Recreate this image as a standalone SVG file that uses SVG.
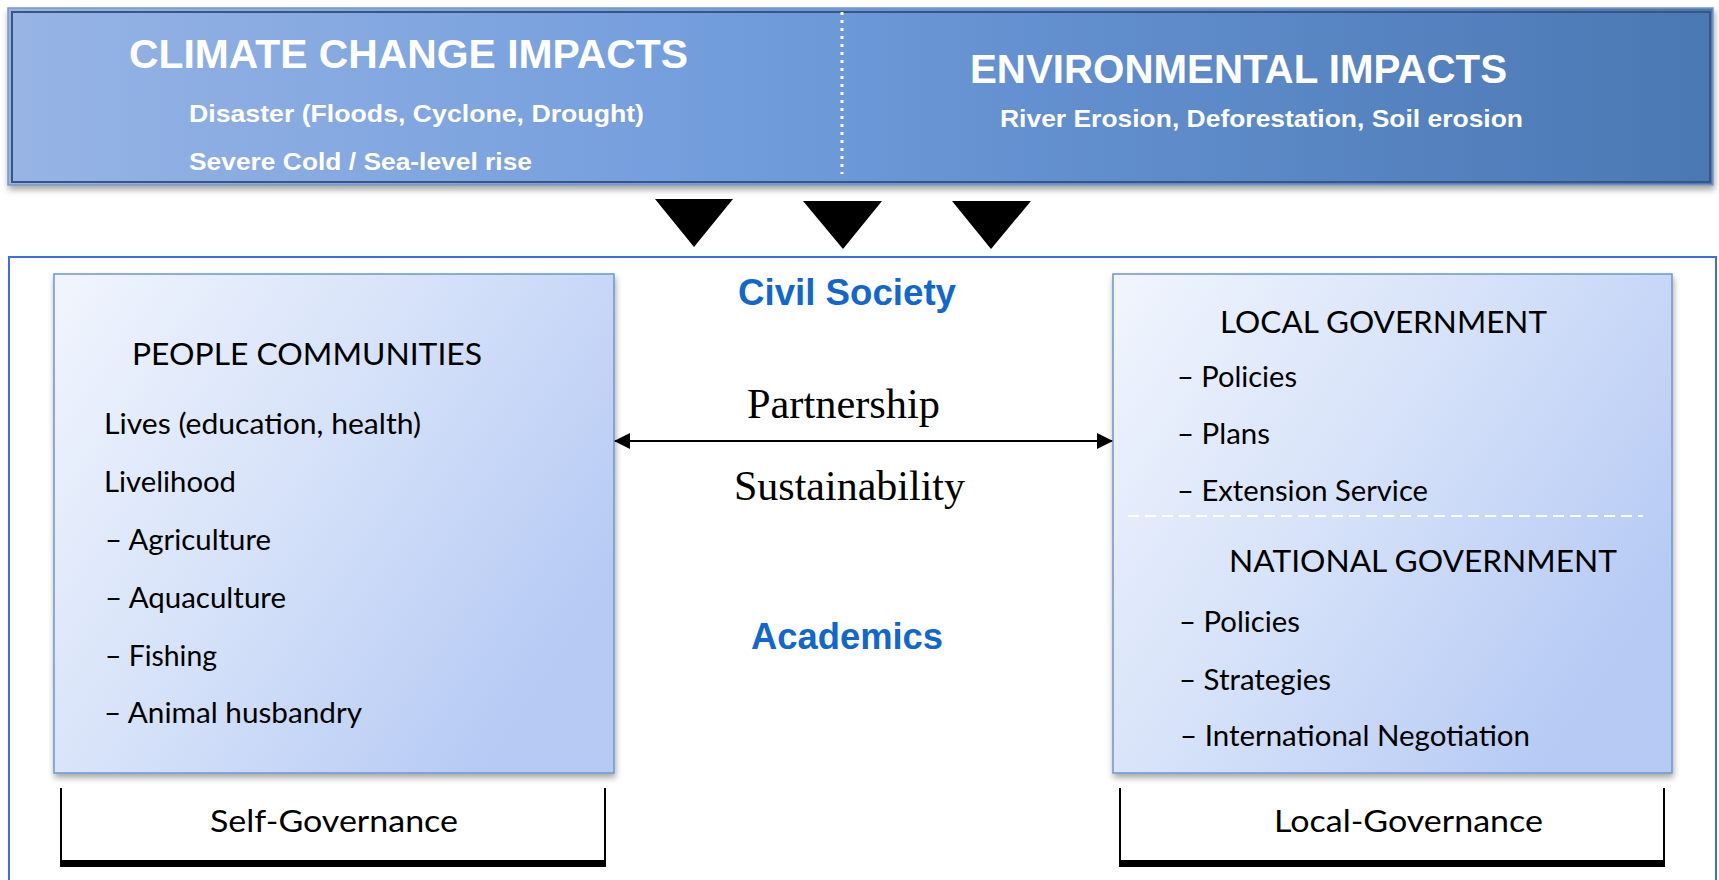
<svg xmlns="http://www.w3.org/2000/svg" width="1719" height="880" viewBox="0 0 1719 880">
  <defs>
    <linearGradient id="bannerFill" x1="0" y1="0" x2="1" y2="0">
      <stop offset="0" stop-color="#97B4E5"/>
      <stop offset="0.45" stop-color="#6F9BDB"/>
      <stop offset="0.6" stop-color="#6490D0"/>
      <stop offset="1" stop-color="#4A78B2"/>
    </linearGradient>
    <linearGradient id="boxFill" x1="0" y1="0" x2="1" y2="0.6">
      <stop offset="0" stop-color="#F1F5FD"/>
      <stop offset="0.5" stop-color="#D6E2F9"/>
      <stop offset="1" stop-color="#B6CAF4"/>
    </linearGradient>
    <filter id="shadow" x="-5%" y="-5%" width="110%" height="115%">
      <feDropShadow dx="1" dy="4" stdDeviation="3" flood-color="#000" flood-opacity="0.35"/>
    </filter>
    <marker id="arrowHead" viewBox="0 0 16 16" refX="15" refY="8" markerWidth="16" markerHeight="16" markerUnits="userSpaceOnUse" orient="auto-start-reverse">
      <path d="M0,0 L16,8 L0,16 Z" fill="#000"/>
    </marker>
    <style>
      .bannerTitle { font-family: "Liberation Sans", Arial, sans-serif; font-weight: bold; font-size: 40px; fill: #FFFFFF; }
      .bannerSub { font-family: "Liberation Sans", Arial, sans-serif; font-weight: bold; font-size: 24px; fill: #FFFFFF; }
      .box { fill: url(#boxFill); stroke: #6E95D0; stroke-width: 1.5; }
      .head { font-family: Lato, "Open Sans", sans-serif; font-size: 30px; fill: #000; }
      .item { font-family: Lato, "Open Sans", sans-serif; font-size: 28px; fill: #000; }
      .blueLabel { font-family: "Liberation Sans", Arial, sans-serif; font-weight: bold; font-size: 36px; fill: #1267CF; }
      .serifLabel { font-family: "Liberation Serif", "Times New Roman", serif; font-size: 42px; fill: #000; }
      .bracket { fill: none; stroke: #000; stroke-width: 2; }
      .bracketBase { fill: #000; }
      .tri { fill: #000; }
    </style>
  </defs>

  <rect width="1719" height="880" fill="#FFFFFF"/>

  <!-- impacts banner -->
  <g id="impacts-banner">
    <rect x="8" y="8" width="1705" height="177" fill="url(#bannerFill)" stroke="#7C96C4" stroke-width="1.5" filter="url(#shadow)"/>
    <rect x="12" y="12" width="1698" height="170" fill="none" stroke="#3A5584" stroke-width="2"/>
    <line x1="842" y1="12" x2="842" y2="174" stroke="#FFFFFF" stroke-width="3" stroke-dasharray="3 5"/>
  </g>
  <g id="climate-change">
    <text class="bannerTitle" x="129" y="68" textLength="559" lengthAdjust="spacingAndGlyphs">CLIMATE CHANGE IMPACTS</text>
    <text class="bannerSub" x="189" y="122" textLength="455" lengthAdjust="spacingAndGlyphs">Disaster (Floods, Cyclone, Drought)</text>
    <text class="bannerSub" x="189" y="170" textLength="343" lengthAdjust="spacingAndGlyphs">Severe Cold / Sea-level rise</text>
  </g>
  <g id="environmental">
    <text class="bannerTitle" x="970" y="83" textLength="537" lengthAdjust="spacingAndGlyphs">ENVIRONMENTAL IMPACTS</text>
    <text class="bannerSub" x="1000" y="127" textLength="523" lengthAdjust="spacingAndGlyphs">River Erosion, Deforestation, Soil erosion</text>
  </g>

  <!-- downward pointers -->
  <g id="pointers">
    <polygon class="tri" points="655,199 733,199 694,247"/>
    <polygon class="tri" points="803,201 882,201 843,249"/>
    <polygon class="tri" points="952,201 1031,201 991,249"/>
  </g>

  <!-- governance frame -->
  <g id="frame">
    <rect x="9" y="257" width="1707" height="660" fill="none" stroke="#3D6BF0" stroke-width="2"/>
  </g>

  <!-- people communities -->
  <g id="people-communities">
    <rect class="box" x="54" y="274" width="560" height="499" filter="url(#shadow)"/>
    <text class="head" x="132" y="365" textLength="350" lengthAdjust="spacingAndGlyphs">PEOPLE COMMUNITIES</text>
    <text class="item" x="104" y="434" textLength="317" lengthAdjust="spacingAndGlyphs">Lives (education, health)</text>
    <text class="item" x="104" y="492" textLength="132" lengthAdjust="spacingAndGlyphs">Livelihood</text>
    <text class="item" x="105" y="550" textLength="166" lengthAdjust="spacingAndGlyphs">– Agriculture</text>
    <text class="item" x="105" y="608" textLength="181" lengthAdjust="spacingAndGlyphs">– Aquaculture</text>
    <text class="item" x="105" y="666" textLength="112" lengthAdjust="spacingAndGlyphs">– Fishing</text>
    <text class="item" x="104" y="723" textLength="258" lengthAdjust="spacingAndGlyphs">– Animal husbandry</text>
  </g>

  <!-- government -->
  <g id="government">
    <rect class="box" x="1113" y="274" width="559" height="499" filter="url(#shadow)"/>
    <text class="head" x="1220" y="333" textLength="327" lengthAdjust="spacingAndGlyphs">LOCAL GOVERNMENT</text>
    <text class="item" x="1177" y="387" textLength="120" lengthAdjust="spacingAndGlyphs">– Policies</text>
    <text class="item" x="1177" y="444" textLength="93" lengthAdjust="spacingAndGlyphs">– Plans</text>
    <text class="item" x="1177" y="501" textLength="251" lengthAdjust="spacingAndGlyphs">– Extension Service</text>
    <line x1="1128" y1="516" x2="1643" y2="516" stroke="#FFFFFF" stroke-width="2" stroke-dasharray="11 6"/>
    <text class="head" x="1229" y="572" textLength="388" lengthAdjust="spacingAndGlyphs">NATIONAL GOVERNMENT</text>
    <text class="item" x="1179" y="632" textLength="121" lengthAdjust="spacingAndGlyphs">– Policies</text>
    <text class="item" x="1179" y="690" textLength="152" lengthAdjust="spacingAndGlyphs">– Strategies</text>
    <text class="item" x="1180" y="746" textLength="350" lengthAdjust="spacingAndGlyphs">– International Negotiation</text>
  </g>

  <!-- middle labels -->
  <g id="civil-society">
    <text class="blueLabel" x="738" y="305" textLength="218" lengthAdjust="spacingAndGlyphs">Civil Society</text>
  </g>
  <g id="academics">
    <text class="blueLabel" x="751" y="649" textLength="192" lengthAdjust="spacingAndGlyphs">Academics</text>
  </g>

  <!-- partnership link -->
  <g id="connectors">
    <line x1="615" y1="441" x2="1112" y2="441" stroke="#000" stroke-width="2" marker-start="url(#arrowHead)" marker-end="url(#arrowHead)"/>
    <text class="serifLabel" x="747" y="418" textLength="193" lengthAdjust="spacingAndGlyphs">Partnership</text>
    <text class="serifLabel" x="734" y="500" textLength="231" lengthAdjust="spacingAndGlyphs">Sustainability</text>
  </g>

  <!-- governance brackets -->
  <g id="self-governance">
    <path class="bracket" d="M61,788 V864 M605,788 V864"/>
    <rect class="bracketBase" x="60" y="860" width="546" height="7"/>
    <text class="head" x="210" y="832" textLength="248" lengthAdjust="spacingAndGlyphs">Self-Governance</text>
  </g>
  <g id="local-governance">
    <path class="bracket" d="M1120,788 V864 M1664,788 V864"/>
    <rect class="bracketBase" x="1119" y="860" width="546" height="7"/>
    <text class="head" x="1274" y="832" textLength="269" lengthAdjust="spacingAndGlyphs">Local-Governance</text>
  </g>
</svg>
